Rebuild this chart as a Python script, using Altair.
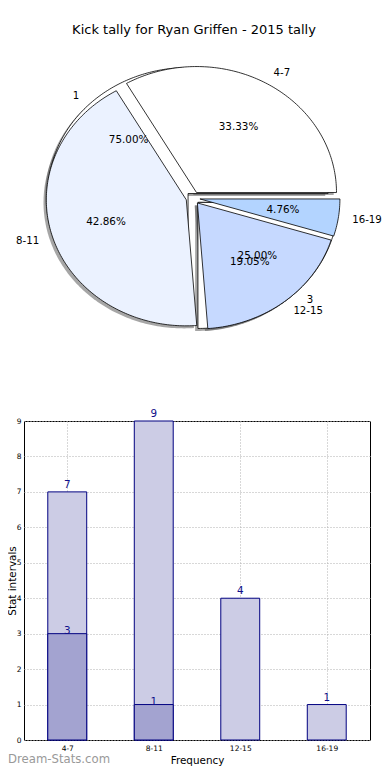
import json
import numpy as np
import pandas as pd
import altair as alt

# ---------------- data ----------------
TITLE = "Kick tally for Ryan Griffen - 2015 tally"
categories = ["4-7", "8-11", "12-15", "16-19"]
tally = [7, 9, 4, 1]
outer_colors = ["#ffffff", "#ebf2ff", "#c6d9ff", "#b3d4ff"]

inner_labels = ["1", "3"]
inner_values = [3, 1]
inner_colors = ["#ffffff", "#ffffff"]

dark_cats = ["4-7", "8-11"]
dark_values = [3, 1]

WATERMARK = "Dream-Stats.com"

EXPLODE = 0.05
SHADOW = 0.02
FONT = "DejaVu Sans"


def pie_tables(labels, values, colors, pie):
    total = float(sum(values))
    shapes, texts = [], []
    start = 0.0
    for lab, val, col in zip(labels, values, colors):
        frac = val / total
        t1 = 2 * np.pi * start
        t2 = 2 * np.pi * (start + frac)
        mid = (t1 + t2) / 2
        ox, oy = EXPLODE * np.cos(mid), EXPLODE * np.sin(mid)
        n = max(int(np.degrees(t2 - t1)), 2) + 1
        ang = np.linspace(t1, t2, n)
        xs = [ox] + list(ox + np.cos(ang)) + [ox]
        ys = [oy] + list(oy + np.sin(ang)) + [oy]
        for k, (x, y) in enumerate(zip(xs, ys)):
            shapes.append(dict(key=f"{pie}-{lab}", slice=lab, k=k, x=x, y=y, color=col))
        texts.append(dict(
            label=lab, pct=f"{100 * frac:.2f}%",
            lx=ox + 1.1 * np.cos(mid), ly=oy + 1.1 * np.sin(mid),
            px=ox + 0.6 * np.cos(mid), py=oy + 0.6 * np.sin(mid),
            side="left" if np.cos(mid) > 0 else "right"))
        start += frac
    return pd.DataFrame(shapes), pd.DataFrame(texts)


outer_shapes, outer_texts = pie_tables(categories, tally, outer_colors, "outer")
inner_shapes, inner_texts = pie_tables(inner_labels, inner_values, inner_colors, "inner")
all_shapes = pd.concat([inner_shapes, outer_shapes], ignore_index=True)
shadow = all_shapes.assign(x=all_shapes.x - SHADOW, y=all_shapes.y - SHADOW)
all_texts = pd.concat([outer_texts, inner_texts], ignore_index=True)

# ---------------- layout (view = bar plot area) ----------------
W, H = 346, 319
PX = alt.Scale(domain=[-1, 1], range=[29, 309], nice=False, zero=False)
PY = alt.Scale(domain=[-1, 1], range=[-97, -349], nice=False, zero=False)


def pxy(xf, yf):
    return dict(x=alt.X(xf, scale=PX, axis=None), y=alt.Y(yf, scale=PY, axis=None))


pie_layers = [
    alt.Chart(shadow).mark_line(fill="#4d4d4d", fillOpacity=0.5, strokeOpacity=0)
    .encode(**pxy("x:Q", "y:Q"), detail="key:N", order="k:Q")
]
for df in (inner_shapes, outer_shapes):
    for key in df.key.unique():
        part = df[df.key == key]
        pie_layers.append(
            alt.Chart(part).mark_line(fill=part.color.iloc[0], stroke="black", strokeWidth=0.8)
            .encode(**pxy("x:Q", "y:Q"), order="k:Q")
        )
for side in ("left", "right"):
    pie_layers.append(
        alt.Chart(all_texts[all_texts.side == side])
        .mark_text(align=side, baseline="middle", fontSize=10.2, font=FONT, color="black")
        .encode(**pxy("lx:Q", "ly:Q"), text="label:N")
    )
pie_layers.append(
    alt.Chart(all_texts)
    .mark_text(align="center", baseline="middle", fontSize=10.4, font=FONT, color="black")
    .encode(**pxy("px:Q", "py:Q"), text="pct:N")
)
pie_layers.append(
    alt.Chart(pd.DataFrame({"t": [TITLE]}))
    .mark_text(align="center", baseline="middle", fontSize=13, font=FONT, color="black")
    .encode(x=alt.value(170), y=alt.value(-391), text="t:N")
)
pie = alt.layer(*pie_layers)

# ---------------- bar chart ----------------
light_df = pd.DataFrame({"cat": categories, "idx": list(range(len(categories))), "value": tally})
dark_df = pd.DataFrame({"cat": dark_cats, "idx": [categories.index(c) for c in dark_cats],
                        "value": dark_values})

BX = alt.Scale(domain=[-0.5, len(categories) - 0.5], nice=False, zero=False)
BY = alt.Scale(domain=[0, 9], nice=False, zero=False)
label_expr = json.dumps(categories) + "[datum.value]"

x_axis = alt.Axis(orient="bottom", values=list(range(len(categories))), labelExpr=label_expr,
                  title="Frequency", titlePadding=4, labelPadding=4)
y_axis = alt.Axis(orient="left", values=list(range(10)), format="d", title="Stat intervals",
                  titleX=-11.5, titleY=H / 2, titleBaseline="middle", titleAngle=270, labelPadding=3)


def bx(field):
    return alt.X(field, scale=BX, axis=x_axis, title="Frequency")


def by(field):
    return alt.Y(field, scale=BY, axis=y_axis, title="Stat intervals")


def bar_layer(df, fill):
    return (
        alt.Chart(df)
        .transform_calculate(lo="datum.idx - 0.225", hi="datum.idx + 0.225")
        .mark_rect(fill=fill, stroke="#000080", strokeWidth=1)
        .encode(x=bx("lo:Q"), x2="hi:Q", y=by("value:Q"), y2=alt.datum(0))
    )


bars = alt.layer(
    bar_layer(light_df, "#ccccE5"),
    bar_layer(dark_df, "#a3a3d0"),
    alt.Chart(light_df).mark_text(dy=-4, baseline="alphabetic", fontSize=10.4, font=FONT, color="#10108a")
    .encode(x=bx("idx:Q"), y=by("value:Q"), text="value:Q"),
    alt.Chart(dark_df).mark_text(dy=0, baseline="alphabetic", fontSize=10.4, font=FONT, color="#10108a")
    .encode(x=bx("idx:Q"), y=by("value:Q"), text="value:Q"),
    alt.Chart(pd.DataFrame({"t": [WATERMARK]}))
    .mark_text(align="left", baseline="alphabetic", fontSize=11.7, font=FONT, color="#999999")
    .encode(x=alt.value(-16), y=alt.value(342), text="t:N"),
)

chart = (
    alt.layer(bars, pie)
    .resolve_scale(x="independent", y="independent")
    .properties(
        width=W, height=H,
        padding={"left": 16, "top": 413, "right": 12, "bottom": 28},
        autosize=alt.AutoSizeParams(type="none"),
    )
    .configure_view(stroke="black", strokeWidth=1)
    .configure_axis(
        grid=True, gridColor="#b0b0b0", gridDash=[1, 2], gridWidth=1,
        ticks=False, domain=False,
        labelFont=FONT, labelFontSize=7.5, labelColor="black",
        titleFont=FONT, titleFontSize=10.4, titleFontWeight="normal", titleColor="black",
    )
    .configure_text(font=FONT)
)

chart.save("out.html", embed_options={"renderer": "svg", "actions": False})
